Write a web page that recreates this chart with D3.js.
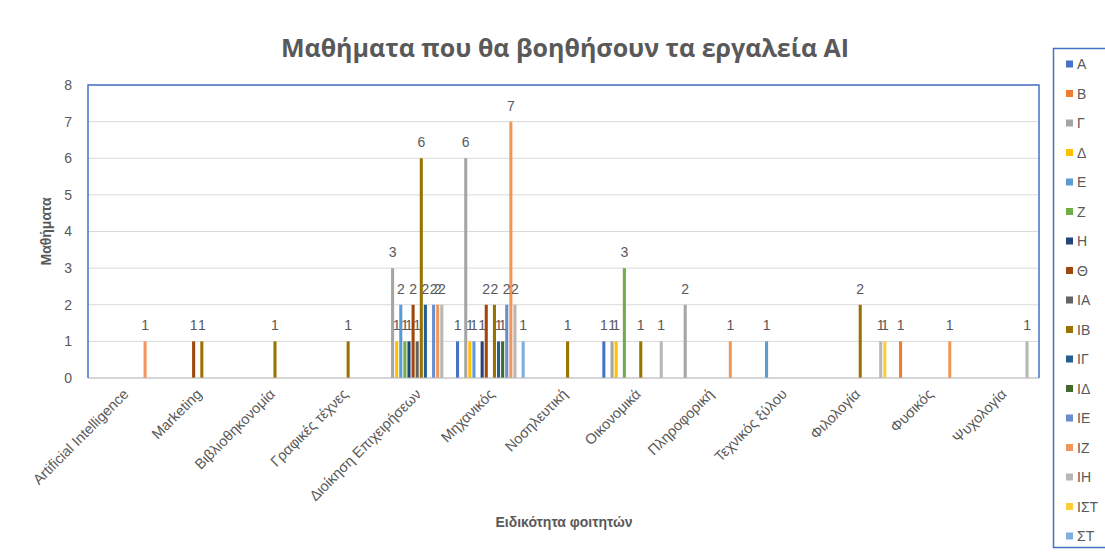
<!DOCTYPE html>
<html>
<head>
<meta charset="utf-8">
<script src="https://cdn.jsdelivr.net/npm/d3@7"></script>
<style>
  html, body { margin: 0; padding: 0; background: #ffffff; }
  svg { display: block; font-family: "Liberation Sans", Arial, sans-serif; }
</style>
</head>
<body>
<svg id="chart" width="1105" height="559"></svg>
<script>
// Specialties (x categories)
const categories = [
  "Artificial Intelligence", "Marketing", "Βιβλιοθηκονομία", "Γραφικές τέχνες",
  "Διοίκηση Επιχειρήσεων", "Μηχανικός", "Νοσηλευτική", "Οικονομικά",
  "Πληροφορική", "Τεχνικός ξύλου", "Φιλολογία", "Φυσικός", "Ψυχολογία"
];

// Series names, in legend order
const seriesNames = ["Α", "Β", "Γ", "Δ", "Ε", "Ζ", "Η", "Θ", "ΙΑ", "ΙΒ", "ΙΓ", "ΙΔ", "ΙΕ", "ΙΖ", "ΙΗ", "ΙΣΤ", "ΣΤ"];

// Counts per specialty for each series (null = no answer)
const sA   = [null, null, null, null, null, 1, null, 1, null, null, null, null, null];
const sB   = [null, null, null, null, null, null, null, null, null, null, null, 1, null];
const sG   = [null, null, null, null, 3, 6, null, 1, 2, null, null, null, null];
const sD   = [null, null, null, null, 1, 1, null, 1, null, null, null, null, null];
const sE   = [null, null, null, null, 2, 1, null, null, null, 1, null, null, null];
const sZ   = [null, null, null, null, 1, null, null, 3, null, null, null, null, null];
const sH   = [null, null, null, null, 1, 1, null, null, null, null, null, null, null];
const sTh  = [null, 1, null, null, 2, 2, null, null, null, null, null, null, null];
const sIA  = [null, null, null, null, 1, null, null, null, null, null, null, null, null];
const sIB  = [null, 1, 1, 1, 6, 2, 1, 1, null, null, 2, null, null];
const sIG  = [null, null, null, null, 2, 1, null, null, null, null, null, null, null];
const sID  = [null, null, null, null, null, 1, null, null, null, null, null, null, null];
const sIE  = [null, null, null, null, 2, 2, null, null, null, null, null, null, null];
const sIZ  = [1, null, null, null, 2, 7, null, null, 1, null, null, 1, null];
const sIH  = [null, null, null, null, 2, 2, null, 1, null, null, 1, null, 1];
const sIST = [null, null, null, null, null, null, null, null, null, null, 1, null, null];
const sST  = [null, null, null, null, null, 1, null, null, null, null, null, null, null];

const seriesValues = [sA, sB, sG, sD, sE, sZ, sH, sTh, sIA, sIB, sIG, sID, sIE, sIZ, sIH, sIST, sST];

const yTicks = [0, 1, 2, 3, 4, 5, 6, 7, 8];

const colors = [
  "#4472C4", "#ED7D31", "#A5A5A5", "#FFC000", "#5B9BD5", "#70AD47",
  "#264478", "#9E480E", "#636363", "#997300", "#255E91", "#43682B",
  "#698ED0", "#F1975A", "#B7B7B7", "#FFCD33", "#7CAFDD"
];

const textColor = "#595959";
const svg = d3.select("#chart");

const plot = { left: 88, right: 1039, top: 85, bottom: 378 };

const x0 = d3.scaleBand()
  .domain(categories)
  .range([plot.left, plot.right])
  .padding(0);

const x1 = d3.scaleBand()
  .domain(seriesNames)
  .range([0, x0.bandwidth()])
  .paddingInner(0.25)
  .paddingOuter(0.545);

const y = d3.scaleLinear()
  .domain([0, 8])
  .range([plot.bottom, plot.top]);

const color = d3.scaleOrdinal().domain(seriesNames).range(colors);

// Title
svg.append("text")
  .attr("x", 565)
  .attr("y", 57)
  .attr("text-anchor", "middle")
  .attr("font-size", 25)
  .attr("font-family", "Open Sans, Liberation Sans, sans-serif")
  .attr("font-weight", "bold")
  .attr("fill", textColor)
  .text("Μαθήματα που θα βοηθήσουν τα εργαλεία AI");

// Horizontal gridlines
svg.append("g")
  .selectAll("line")
  .data(yTicks)
  .join("line")
  .attr("x1", plot.left)
  .attr("x2", plot.right)
  .attr("y1", d => y(d))
  .attr("y2", d => y(d))
  .attr("stroke", "#d9d9d9")
  .attr("stroke-width", 1);

// Y axis tick labels
const yAxis = d3.axisLeft(y).tickValues(yTicks).tickSize(0).tickPadding(16);
const gy = svg.append("g")
  .attr("transform", `translate(${plot.left},0)`)
  .call(yAxis);
gy.select(".domain").remove();
gy.selectAll("text")
  .attr("font-size", 14)
  .attr("font-family", "Liberation Sans, Arial, sans-serif")
  .attr("fill", textColor);

// Bars
const rows = [];
seriesNames.forEach((s, si) => {
  categories.forEach((c, ci) => {
    const v = seriesValues[si][ci];
    if (v !== null && v !== undefined) rows.push({ series: s, category: c, value: v });
  });
});

svg.append("g")
  .selectAll("rect")
  .data(rows)
  .join("rect")
  .attr("x", d => x0(d.category) + x1(d.series))
  .attr("y", d => y(d.value))
  .attr("width", x1.bandwidth())
  .attr("height", d => y(0) - y(d.value))
  .attr("fill", d => color(d.series));

// Value labels
svg.append("g")
  .selectAll("text")
  .data(rows)
  .join("text")
  .attr("x", d => x0(d.category) + x1(d.series) + x1.bandwidth() / 2)
  .attr("y", d => y(d.value) - 11)
  .attr("text-anchor", "middle")
  .attr("font-size", 14)
  .attr("fill", textColor)
  .text(d => d.value);

// X axis line
svg.append("line")
  .attr("x1", plot.left)
  .attr("x2", plot.right)
  .attr("y1", y(0))
  .attr("y2", y(0))
  .attr("stroke", "#bfbfbf")
  .attr("stroke-width", 1);

// Plot area frame
svg.append("path")
  .attr("d", `M${plot.left},${plot.bottom}V${plot.top}H${plot.right}V${plot.bottom}`)
  .attr("fill", "none")
  .attr("stroke", "#4472C4")
  .attr("stroke-width", 1.5);

// X axis category labels, rotated
const xAxis = d3.axisBottom(x0).tickSize(0).tickPadding(0);
const gx = svg.append("g")
  .attr("transform", `translate(0,${plot.bottom})`)
  .call(xAxis);
gx.select(".domain").remove();
gx.selectAll("text")
  .attr("font-size", 14.5)
  .attr("font-family", "Liberation Sans, Arial, sans-serif")
  .attr("fill", textColor)
  .attr("text-anchor", "end")
  .attr("dy", null)
  .attr("transform", "translate(5,17) rotate(-45)");

// Axis titles
svg.append("text")
  .attr("x", 564)
  .attr("y", 527)
  .attr("text-anchor", "middle")
  .attr("font-size", 14)
  .attr("font-weight", "bold")
  .attr("fill", textColor)
  .text("Ειδικότητα φοιτητών");

svg.append("text")
  .attr("transform", `translate(51,${(plot.top + plot.bottom) / 2}) rotate(-90)`)
  .attr("text-anchor", "middle")
  .attr("font-size", 14)
  .attr("font-weight", "bold")
  .attr("fill", textColor)
  .text("Μαθήματα");

// Legend
const legend = svg.append("g");
legend.append("rect")
  .attr("x", 1053.5)
  .attr("y", 48.5)
  .attr("width", 60)
  .attr("height", 499)
  .attr("fill", "#ffffff")
  .attr("stroke", "#4472C4")
  .attr("stroke-width", 1.5);

const items = legend.selectAll("g.item")
  .data(seriesNames)
  .join("g")
  .attr("class", "item")
  .attr("transform", (d, i) => `translate(1066,${64 + i * 29.5})`);

items.append("rect")
  .attr("x", 0)
  .attr("y", -3.5)
  .attr("width", 7)
  .attr("height", 7)
  .attr("fill", d => color(d));

items.append("text")
  .attr("x", 11)
  .attr("y", 5)
  .attr("font-size", 14)
  .attr("fill", textColor)
  .text(d => d);
</script>
</body>
</html>
